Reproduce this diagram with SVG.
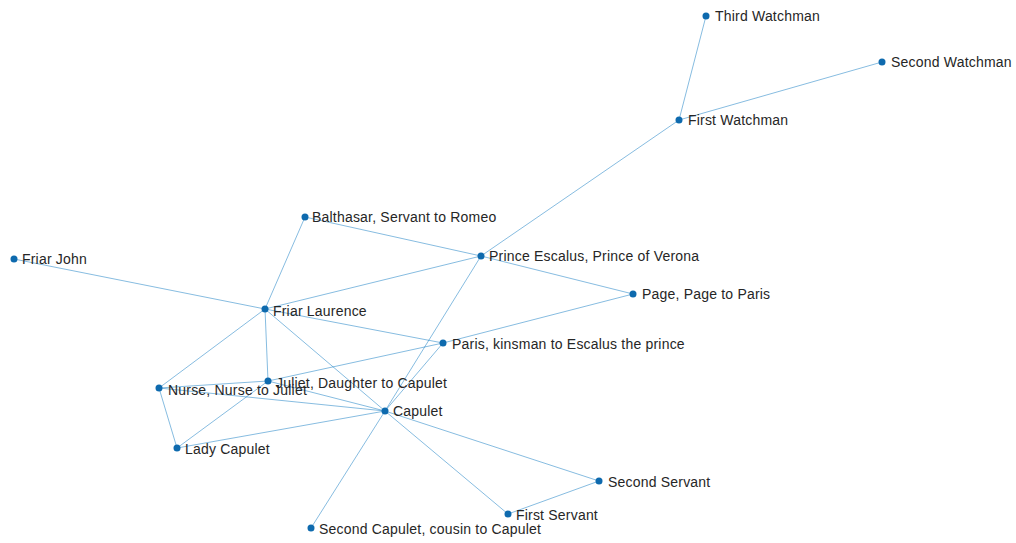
<svg xmlns="http://www.w3.org/2000/svg" width="1016" height="543" viewBox="0 0 1016 543">
<style>
.e{stroke:#0072BD;stroke-opacity:0.6;stroke-width:0.8;fill:none}
.n circle{fill:#0E6AAE}
.n text{font-family:"Liberation Sans",Arial,sans-serif;font-size:14px;letter-spacing:0.2px;fill:#262626}
</style>
<rect width="1016" height="543" fill="#fff"/>
<g id="edges" class="e">
<line x1="706" y1="16" x2="679" y2="120"/>
<line x1="882" y1="62" x2="679" y2="120"/>
<line x1="679" y1="120" x2="481" y2="256"/>
<line x1="305" y1="217" x2="481" y2="256"/>
<line x1="305" y1="217" x2="265" y2="309"/>
<line x1="481" y1="256" x2="633" y2="294"/>
<line x1="481" y1="256" x2="265" y2="309"/>
<line x1="481" y1="256" x2="385" y2="411"/>
<line x1="14" y1="259" x2="265" y2="309"/>
<line x1="633" y1="294" x2="443" y2="343"/>
<line x1="265" y1="309" x2="443" y2="343"/>
<line x1="265" y1="309" x2="268" y2="381"/>
<line x1="265" y1="309" x2="159" y2="388"/>
<line x1="265" y1="309" x2="385" y2="411"/>
<line x1="443" y1="343" x2="268" y2="381"/>
<line x1="443" y1="343" x2="385" y2="411"/>
<line x1="268" y1="381" x2="159" y2="388"/>
<line x1="268" y1="381" x2="177" y2="448"/>
<line x1="268" y1="381" x2="385" y2="411"/>
<line x1="159" y1="388" x2="177" y2="448"/>
<line x1="159" y1="388" x2="385" y2="411"/>
<line x1="177" y1="448" x2="385" y2="411"/>
<line x1="385" y1="411" x2="599" y2="481"/>
<line x1="385" y1="411" x2="508" y2="514"/>
<line x1="385" y1="411" x2="311" y2="528"/>
<line x1="599" y1="481" x2="508" y2="514"/>
</g>
<g id="n1" class="n"><circle cx="706" cy="16" r="3.5"/><text x="715" y="21">Third Watchman</text></g>
<g id="n2" class="n"><circle cx="882" cy="62" r="3.5"/><text x="891" y="67">Second Watchman</text></g>
<g id="n3" class="n"><circle cx="679" cy="120" r="3.5"/><text x="688" y="125">First Watchman</text></g>
<g id="n4" class="n"><circle cx="305" cy="217" r="3.5"/><text x="312" y="222">Balthasar, Servant to Romeo</text></g>
<g id="n5" class="n"><circle cx="481" cy="256" r="3.5"/><text x="489" y="261">Prince Escalus, Prince of Verona</text></g>
<g id="n6" class="n"><circle cx="14" cy="259" r="3.5"/><text x="22" y="264">Friar John</text></g>
<g id="n7" class="n"><circle cx="633" cy="294" r="3.5"/><text x="642" y="299">Page, Page to Paris</text></g>
<g id="n8" class="n"><circle cx="265" cy="309" r="3.5"/><text x="273" y="316">Friar Laurence</text></g>
<g id="n9" class="n"><circle cx="443" cy="343" r="3.5"/><text x="452" y="349">Paris, kinsman to Escalus the prince</text></g>
<g id="n10" class="n"><circle cx="268" cy="381" r="3.5"/><text x="276" y="388">Juliet, Daughter to Capulet</text></g>
<g id="n11" class="n"><circle cx="159" cy="388" r="3.5"/><text x="168" y="395">Nurse, Nurse to Juliet</text></g>
<g id="n12" class="n"><circle cx="385" cy="411" r="3.5"/><text x="393" y="416">Capulet</text></g>
<g id="n13" class="n"><circle cx="177" cy="448" r="3.5"/><text x="185" y="454">Lady Capulet</text></g>
<g id="n14" class="n"><circle cx="599" cy="481" r="3.5"/><text x="608" y="487">Second Servant</text></g>
<g id="n15" class="n"><circle cx="508" cy="514" r="3.5"/><text x="516" y="520">First Servant</text></g>
<g id="n16" class="n"><circle cx="311" cy="528" r="3.5"/><text x="319" y="534">Second Capulet, cousin to Capulet</text></g>
</svg>
